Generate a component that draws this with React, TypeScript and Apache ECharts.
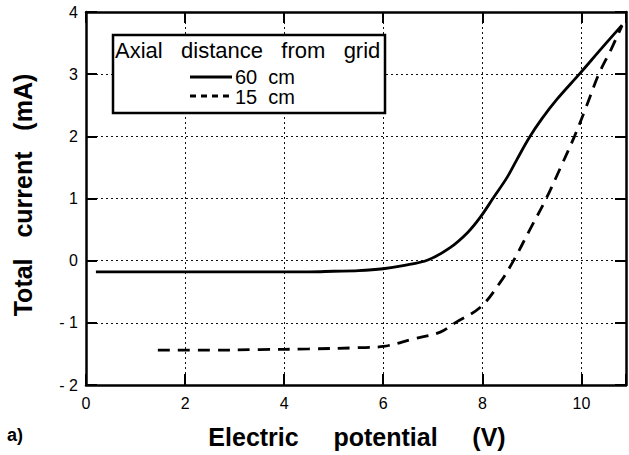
import React, { useEffect, useRef } from "react";
import * as echarts from "echarts";

const xTicks = [0, 2, 4, 6, 8, 10];
const yTicks = [-2, -1, 0, 1, 2, 3, 4];

const solidX = [0.2, 1, 2, 3, 4, 4.5, 5, 5.5, 6, 6.4, 6.9, 7.35, 7.7, 7.96, 8.23, 8.5, 8.7, 8.94, 9.2, 9.5, 9.98, 10.38, 10.82];
const solidY = [-0.18, -0.18, -0.18, -0.18, -0.18, -0.18, -0.17, -0.16, -0.13, -0.08, 0.01, 0.21, 0.45, 0.7, 1.02, 1.34, 1.63, 1.97, 2.28, 2.59, 3.02, 3.39, 3.79];

const dashX = [1.45, 2.5, 3.5, 4.5, 5.5, 6, 6.6, 7.15, 7.45, 7.96, 8.36, 8.63, 8.96, 9.29, 9.58, 9.86, 10.1, 10.35, 10.6, 10.82];
const dashY = [-1.44, -1.44, -1.43, -1.42, -1.4, -1.38, -1.26, -1.15, -1.0, -0.75, -0.35, 0.0, 0.5, 1.0, 1.5, 2.0, 2.48, 3.0, 3.4, 3.78];

const legendTitle = "Axial\u00a0\u00a0\u00a0distance\u00a0\u00a0\u00a0from\u00a0\u00a0\u00a0grid";
const seriesNames = ["60\u00a0\u00a0cm", "15\u00a0\u00a0cm"];
const xTitle = "Electric\u00a0\u00a0\u00a0\u00a0\u00a0potential\u00a0\u00a0\u00a0\u00a0\u00a0(V)";
const yTitle = "Total\u00a0\u00a0\u00a0current\u00a0\u00a0\u00a0(mA)";
const panelLabel = "a)";

const FONT = "'Liberation Sans', Arial, Helvetica, sans-serif";

export default function App() {
  const ref = useRef<HTMLDivElement>(null);
  useEffect(() => {
    if (!ref.current) return;
    const chart = echarts.init(ref.current, undefined, { renderer: "svg" });
    const axisLine = { show: true, onZero: false, lineStyle: { color: "#000", width: 2.5 } };
    const axisTick = { show: true, inside: true, length: 11, lineStyle: { color: "#000", width: 2 } };
    const splitLine = { show: true, lineStyle: { color: "#111", width: 1, type: [2, 3] as any } };
    const xMin = xTicks[0];
    const xMax = 10.9;
    const yMin = yTicks[0];
    const yMax = yTicks[yTicks.length - 1];
    const xFmt = (v: number) => (xTicks.indexOf(v) >= 0 ? String(v) : "");
    const yFmt = (v: number) => (yTicks.indexOf(v) >= 0 ? (v < 0 ? "- " + -v : String(v)) : "");
    chart.setOption({
      animation: false,
      backgroundColor: "#fff",
      grid: { left: 86, right: 3, top: 12, bottom: 70, containLabel: false },
      xAxis: [
        {
          type: "value", position: "bottom", min: xMin, max: xMax, interval: 2,
          axisLine, axisTick,
          axisLabel: { formatter: xFmt, color: "#000", fontSize: 16, fontFamily: FONT, margin: 10 },
          splitLine,
        },
        {
          type: "value", position: "top", min: xMin, max: xMax, interval: 2,
          axisLine, axisTick, axisLabel: { show: false }, splitLine: { show: false },
        },
      ],
      yAxis: [
        {
          type: "value", position: "left", min: yMin, max: yMax, interval: 1,
          axisLine, axisTick,
          axisLabel: { formatter: yFmt, color: "#000", fontSize: 16, fontFamily: FONT, margin: 8 },
          splitLine,
        },
        {
          type: "value", position: "right", min: yMin, max: yMax, interval: 1,
          axisLine, axisTick, axisLabel: { show: false }, splitLine: { show: false },
        },
      ],
      series: [
        {
          name: seriesNames[0], type: "line", xAxisIndex: 0, yAxisIndex: 0,
          data: solidX.map((x, i) => [x, solidY[i]]),
          showSymbol: false, symbol: "none", smooth: 0.35,
          lineStyle: { color: "#000", width: 2.8 },
        },
        {
          name: seriesNames[1], type: "line", xAxisIndex: 0, yAxisIndex: 0,
          data: dashX.map((x, i) => [x, dashY[i]]),
          showSymbol: false, symbol: "none", smooth: 0.35,
          lineStyle: { color: "#000", width: 2.8, type: [12, 8] },
        },
      ],
      graphic: [
        {
          type: "rect", shape: { x: 113, y: 35, width: 272, height: 78 }, z: 100,
          style: { fill: "#fff", stroke: "#000", lineWidth: 2.5 },
        },
        {
          type: "text", x: 115, y: 50, z: 101,
          style: { text: legendTitle, fill: "#000", font: `22px ${FONT}`, textAlign: "left", textVerticalAlign: "middle" },
        },
        {
          type: "line", z: 101, shape: { x1: 190, y1: 77, x2: 232, y2: 77 },
          style: { stroke: "#000", lineWidth: 3 },
        },
        {
          type: "text", x: 235, y: 77, z: 101,
          style: { text: seriesNames[0], fill: "#000", font: `20px ${FONT}`, textAlign: "left", textVerticalAlign: "middle" },
        },
        {
          type: "line", z: 101, shape: { x1: 190, y1: 96, x2: 232, y2: 96 },
          style: { stroke: "#000", lineWidth: 3, lineDash: [6, 5] },
        },
        {
          type: "text", x: 235, y: 97, z: 101,
          style: { text: seriesNames[1], fill: "#000", font: `20px ${FONT}`, textAlign: "left", textVerticalAlign: "middle" },
        },
        {
          type: "text", x: 357, y: 437,
          style: { text: xTitle, fill: "#000", font: `bold 25px ${FONT}`, textAlign: "center", textVerticalAlign: "middle" },
        },
        {
          type: "text", x: 23, y: 195, rotation: Math.PI / 2,
          style: { text: yTitle, fill: "#000", font: `bold 25px ${FONT}`, textAlign: "center", textVerticalAlign: "middle" },
        },
        {
          type: "text", x: 7, y: 435,
          style: { text: panelLabel, fill: "#000", font: `bold 18px ${FONT}`, textAlign: "left", textVerticalAlign: "middle" },
        },
      ],
    });
    return () => chart.dispose();
  }, []);
  return (
    <div
      ref={ref}
      style={{ position: "fixed", left: 0, top: 0, width: 629, height: 455, background: "#fff" }}
    />
  );
}
